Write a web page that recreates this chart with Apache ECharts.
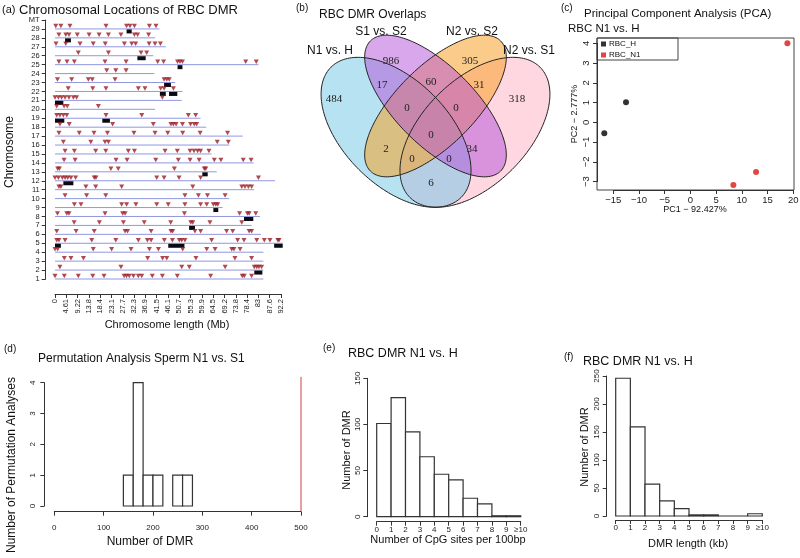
<!DOCTYPE html>
<html><head><meta charset="utf-8">
<script src="https://cdn.jsdelivr.net/npm/echarts@6/dist/echarts.min.js"></script>
<style>html,body{margin:0;padding:0;background:#fff}#c{width:800px;height:558px}</style>
</head><body><div id="c"></div>
<script>
// ---------- DATA ----------
const chromCategories = ['1','2','3','4','5','6','7','8','9','10','11','12','13','14','15','16','17','18','19','20','21','22','23','24','25','26','27','28','29','MT'];
const chromLengths = [85,85,85,85,92.9,84,80.2,83.6,68.4,71.1,81.3,89.8,66,81,63.9,71.1,76.6,61.7,59.4,40.8,51.7,52,49,40.5,83,40.1,45.2,40.8,42.6];
const xTickLabels = ['0','4.61','9.22','13.8','18.4','23.1','27.7','32.3','36.9','41.5','46.1','50.7','55.3','59.9','64.5','69.2','73.8','78.4','83','87.6','92.2'];
const dmrPositionsByChrom = [
 [0,3.8,9.5,15.4,20.0,28.2,29.2,30.3,32.0,34.0,35.4,39.7,43.8,49.9,63.5,76.4,77.2,80.2],
 [2.0,26.9,51.7,54.8,69.4,81.3,82.3,83.2,84.3],
 [3.8,6.5,11.6,37.8,43.9,45.6,57.5,73.4,80.2],
 [0,1.1,15.6,23.1,31.0,38.5,42.2,52.1,61.9,65.3,72.1,73.0,75.5],
 [0.7,1.6,4.1,15.0,24.8,34.0,37.7,39.2,44.6,47.9,50.7,51.7,53.0,63.9,74.5,77.1,82.3,85.4,87.7,90.9,91.4],
 [0.7,8.6,16.0,28.6,29.6,39.2,47.3,48.0,57.1,59.4,70.0,72.5,79.2,80.2],
 [7.8,18.1,27.9,36.4,47.2,55.4,56.2,63.2,76.2],
 [1.0,4.8,5.7,20.4,27.6,28.6,52.8,75.3,78.5,79.2,81.9],
 [7.9,10.6,27.2,29.2,33.0,41.5,46.2,53.0,59.4,61.9,64.6,65.6,66.4],
 [4.1,12.9,20.7,53.0,58.5,62.2,69.4],
 [1.6,2.4,12.6,16.6,27.2,56.2,76.2,77.5,78.9,80.2],
 [0,1.4,3.0,4.1,5.2,6.5,8.4,16.0,16.7,41.5,44.5,50.6,59.4,83.0],
 [1.1,1.8,22.8,25.8,48.7,60.9,61.5],
 [3.7,8.2,24.9,29.4,41.1,50.3,55.1,58.8,65.0,67.7,76.8,80.0],
 [4.1,7.9,16.6,20.7,29.9,32.4,44.9,49.9,55.1,56.7,58.2,59.4,62.8],
 [3.4,14.6,20.4,21.8,66.2,70.7],
 [1.6,9.9,15.9,21.4,32.2,40.8,46.0,52.1,59.2,70.4],
 [2.0,5.8,23.5,40.1,47.3,48.3,49.4,52.0,55.3,56.8,57.8],
 [0.7,2.0,3.4,4.8,20.8,35.4,54.4,57.4],
 [0.7,3.7,5.0,17.7],
 [0,1.4,2.7,4.1,5.7,7.5,8.8,43.8],
 [5.4,15.4,20.8,34.0,36.7,43.1,44.5,48.3],
 [1.0,6.8,13.6,15.2,24.5,44.5,45.6,46.6],
 [21.1,24.8,29.0],
 [1.6,4.9,7.9,20.4,29.0,41.9,44.3,50.0,51.0,52.0,77.8,82.1],
 [9.5,21.8,35.1,37.4],
 [0.4,4.4,10.2,15.6,20.5,28.3,31.3,32.9,38.4,40.8,43.0],
 [1.6,4.4,5.7,9.1,13.9,18.0,21.8,26.9,32.4,33.7,38.2],
 [0.3,2.4,6.1,20.8,29.2,30.6,32.4,38.5,41.2]
];
const clusterChrom = ['29','28','26','25','23','22','22','21','19','19','13','12','9','8','7','5','5','5','2'];
const clusterStart = [29.2,4.1,33.6,50.0,44.5,42.8,46.5,0,0,19.3,60.1,3.4,64.6,77.1,54.7,0,46.2,89.4,81.3];
const clusterEnd   = [31.3,6.5,37.0,52.0,47.3,45.2,49.9,3.4,3.8,22.4,62.3,7.5,66.6,80.9,57.1,2.4,52.8,92.9,84.6];

const vennSetNames = ['N1 vs. H','S1 vs. S2','N2 vs. S2','N2 vs. S1'];
const vennRegionCounts = [484,986,305,318,17,60,31,0,0,0,2,0,34,0,6];

const pcaH_x = [-16.75,-12.53], pcaH_y = [-0.55,1.02];
const pcaN1_x = [18.85,12.76,8.35], pcaN1_y = [4.0,-2.51,-3.17];

const permBinStart = [140,160,180,200,240,260];
const permBinEnd   = [160,180,200,220,260,280];
const permCounts   = [1,4,1,1,1,1];
const observedDMR = 500;

const cpgTickLabels = ['0','1','2','3','4','5','6','7','8','9','≥10'];
const cpgCounts = [101,129,92,65,46,40,20,14,1,1];
const lenTickLabels = ['0','1','2','3','4','5','6','7','8','9','≥10'];
const lenCounts = [246,159,57,27,13,2,2,0,0,4];

// ---------- BUILD ----------
const SANS = 'Liberation Sans, Arial, sans-serif';
const SERIF = 'Liberation Serif, Times New Roman, serif';
const AX = '#333';
const minus = v => (v < 0 ? '\u2212' + (-v) : String(v));

function axisCommon(extra){
  return Object.assign({
    axisLine:{show:true,onZero:false,lineStyle:{color:AX,width:1}},
    axisTick:{show:true,length:4,lineStyle:{color:AX}},
    splitLine:{show:false},
    axisLabel:{color:'#222',fontFamily:SANS,fontSize:8}
  }, extra);
}

const triData = [];
dmrPositionsByChrom.forEach((arr,i)=>arr.forEach(p=>triData.push([p,i])));
const clusterData = clusterChrom.map((c,i)=>[clusterStart[i],clusterEnd[i],chromCategories.indexOf(c)]);

function histRender(params, api){
  const p0 = api.coord([api.value(0), api.value(2)]);
  const p1 = api.coord([api.value(1), 0]);
  return {type:'rect', shape:{x:p0[0],y:p0[1],width:p1[0]-p0[0],height:p1[1]-p0[1]},
    style:{fill:'#fff',stroke:'#333',lineWidth:1.2}};
}

// Venn geometry (layout): quad ellipses, inner pair thinner than outer pair
const U = 263, vcx = 435.5, vcy = 106;
const vennEll = [
  {cx:vcx-0.15*U, cy:vcy+0.10*U, a:0.35*U, b:0.20*U, rot:-Math.PI/4, fill:'rgba(110,198,230,0.5)'},
  {cx:vcx, cy:vcy, a:0.35*U, b:0.15*U, rot:-Math.PI/4, fill:'rgba(180,80,215,0.5)'},
  {cx:vcx, cy:vcy, a:0.35*U, b:0.15*U, rot:Math.PI/4, fill:'rgba(248,162,40,0.55)'},
  {cx:vcx+0.15*U, cy:vcy+0.10*U, a:0.35*U, b:0.20*U, rot:Math.PI/4, fill:'rgba(255,175,195,0.5)'}
];
const vennDrawOrder = [3,0,2,1];
function ellPts(e){
  const pts=[];
  for(let k=0;k<180;k++){
    const t=k/180*2*Math.PI, x=e.a*Math.cos(t), y=e.b*Math.sin(t);
    const c=Math.cos(e.rot), s=Math.sin(e.rot);
    pts.push([e.cx + x*c + y*s, e.cy - x*s + y*c]);
  }
  return pts;
}
const vennLabelPos = [[330,51],[381,32],[472,32],[529,51]];
const vennCountPos = [[334,99],[391,61],[470,61],[517,99],[382,85],[431,82],[479,85],[407,108],[456,108],[431,135],[386,149],[412,159],[472,149],[449,159],[431,183]];

const graphics = [];
vennDrawOrder.forEach(i=>graphics.push({type:'polygon',shape:{points:ellPts(vennEll[i])},style:{fill:vennEll[i].fill,stroke:null}}));
vennEll.forEach(e=>graphics.push({type:'polygon',shape:{points:ellPts(e)},style:{fill:null,stroke:'#222',lineWidth:1}}));
vennSetNames.forEach((n,i)=>graphics.push({type:'text',x:vennLabelPos[i][0],y:vennLabelPos[i][1],style:{text:n,fontFamily:SANS,fontSize:12,fill:'#111',align:'center',verticalAlign:'middle'}}));
vennRegionCounts.forEach((n,i)=>graphics.push({type:'text',x:vennCountPos[i][0],y:vennCountPos[i][1],style:{text:String(n),fontFamily:SERIF,fontSize:11,fill:'#222',align:'center',verticalAlign:'middle'}}));

function txt(x,y,t,size,opts){
  return Object.assign({type:'text',x:x,y:y,style:Object.assign({text:t,fontFamily:SANS,fontSize:size,fill:'#111',align:'left',verticalAlign:'middle'},opts||{})});
}
function vtxt(x,y,t,size){
  return {type:'text',x:x,y:y,rotation:Math.PI/2,style:{text:t,fontFamily:SANS,fontSize:size,fill:'#111',align:'center',verticalAlign:'middle'}};
}
// titles
graphics.push(txt(2,10,'(a)',11), txt(19,10,'Chromosomal Locations of RBC DMR',13));
graphics.push(txt(296,8,'(b)',10), txt(319,15,'RBC DMR Overlaps',12));
graphics.push(txt(561,8,'(c)',10), txt(584,14,'Principal Component Analysis (PCA)',11.5), txt(568,29,'RBC N1 vs. H',11.5));
graphics.push(txt(4,349,'(d)',10), txt(38,359,'Permutation Analysis Sperm N1 vs. S1',12));
graphics.push(txt(323,348,'(e)',10), txt(348,354,'RBC DMR N1 vs. H',12.5));
graphics.push(txt(564,357,'(f)',10), txt(583,362,'RBC DMR N1 vs. H',12.5));
// axis titles
graphics.push(vtxt(10,152,'Chromosome',12), txt(167,325,'Chromosome length (Mb)',11,{align:'center'}));
graphics.push(vtxt(575,114,'PC2 \u2212 2.777%',9), txt(695,210,'PC1 \u2212 92.427%',9,{align:'center'}));
graphics.push(vtxt(12,465,'Number of Permutation Analyses',12), txt(150,542,'Number of DMR',12,{align:'center'}));
graphics.push(vtxt(347,450,'Number of DMR',11), txt(448,540,'Number of CpG sites per 100bp',11,{align:'center'}));
graphics.push(vtxt(585,447,'Number of DMR',11), txt(688,544,'DMR length (kb)',11,{align:'center'}));
// PCA box + legend box
graphics.push({type:'rect',shape:{x:597,y:38,width:197,height:152},style:{fill:null,stroke:'#444',lineWidth:1}});
graphics.push({type:'rect',shape:{x:597,y:38,width:81,height:22},style:{fill:null,stroke:'#444',lineWidth:1}});

const option = {
  animation:false,
  backgroundColor:'#fff',
  grid:[
    {left:55,top:20,width:226,height:259,outerBoundsMode:'none'},
    {left:613.3,top:43.3,width:180,height:138.4,outerBoundsMode:'none'},
    {left:54.3,top:382.7,width:246.7,height:123.3,outerBoundsMode:'none'},
    {left:376.7,top:378.3,width:144,height:138.4,outerBoundsMode:'none'},
    {left:615.7,top:376,width:146.6,height:140,outerBoundsMode:'none'}
  ],
  xAxis:[
    axisCommon({gridIndex:0,type:'value',min:0,max:92.2,interval:4.61,offset:15,
      axisLabel:{color:'#222',fontFamily:SANS,fontSize:7.5,rotate:90,margin:5,showMinLabel:true,showMaxLabel:true,
        formatter:v=>xTickLabels[Math.round(v/4.61)]}}),
    axisCommon({gridIndex:1,type:'value',min:-15,max:20,interval:5,offset:8.3,
      axisLabel:{color:'#222',fontFamily:SANS,fontSize:9.5,margin:5,formatter:minus}}),
    axisCommon({gridIndex:2,type:'value',min:0,max:500,interval:100,offset:5.7,
      axisLabel:{color:'#222',fontFamily:SANS,fontSize:8,margin:12}}),
    axisCommon({gridIndex:3,type:'value',min:0,max:10,interval:1,offset:5,
      axisLabel:{color:'#222',fontFamily:SANS,fontSize:8,margin:4,formatter:v=>cpgTickLabels[Math.round(v)]}}),
    axisCommon({gridIndex:4,type:'value',min:0,max:10,interval:1,offset:4,
      axisLabel:{color:'#222',fontFamily:SANS,fontSize:8,margin:4,formatter:v=>lenTickLabels[Math.round(v)]}})
  ],
  yAxis:[
    axisCommon({gridIndex:0,type:'category',data:chromCategories,boundaryGap:false,offset:9.3,
      axisTick:{show:true,length:4,interval:0,lineStyle:{color:AX}},
      axisLabel:{color:'#222',fontFamily:SANS,fontSize:7.5,interval:0,margin:6}}),
    axisCommon({gridIndex:1,type:'value',min:-3,max:4,interval:1,offset:16.3,
      axisLabel:{color:'#222',fontFamily:SANS,fontSize:9.5,rotate:90,margin:6,formatter:minus}}),
    axisCommon({gridIndex:2,type:'value',min:0,max:4,interval:1,offset:10,
      axisLabel:{color:'#222',fontFamily:SANS,fontSize:8,rotate:90,margin:8}}),
    axisCommon({gridIndex:3,type:'value',min:0,max:150,interval:50,offset:9.4,
      axisLabel:{color:'#222',fontFamily:SANS,fontSize:8,rotate:90,margin:6}}),
    axisCommon({gridIndex:4,type:'value',min:0,max:250,interval:50,offset:9,
      axisLabel:{color:'#222',fontFamily:SANS,fontSize:8,rotate:90,margin:6}})
  ],
  legend:{left:601,top:40,orient:'vertical',icon:'rect',itemWidth:5,itemHeight:5,itemGap:3,padding:0,
    selectedMode:false,data:['RBC_H','RBC_N1'],textStyle:{fontFamily:SANS,fontSize:8,color:'#111',padding:[0,0,0,-2]}},
  series:[
    {type:'custom',name:'chrom',xAxisIndex:0,yAxisIndex:0,clip:false,silent:true,
      data:chromLengths.map((l,i)=>[l,i]),encode:{x:0,y:1},
      renderItem:(p,api)=>{const a=api.coord([0,api.value(1)]),b=api.coord([api.value(0),api.value(1)]);
        return {type:'line',shape:{x1:a[0],y1:a[1],x2:b[0],y2:b[1]},style:{stroke:'#9098e0',lineWidth:1}};}},
    {type:'custom',name:'cluster',xAxisIndex:0,yAxisIndex:0,clip:false,silent:true,
      data:clusterData,encode:{x:[0,1],y:2},
      renderItem:(p,api)=>{const a=api.coord([api.value(0),api.value(2)]),b=api.coord([api.value(1),api.value(2)]);
        return {type:'rect',shape:{x:a[0],y:a[1]+0.5,width:Math.max(b[0]-a[0],3),height:4},style:{fill:'#0a0a14'}};}},
    {type:'scatter',name:'dmr',xAxisIndex:0,yAxisIndex:0,clip:false,silent:true,
      data:triData,symbol:'path://M0,0 L10,0 L5,8 Z',symbolSize:[5,4.5],symbolOffset:[0,-3],
      itemStyle:{color:'#9a1c22'}},
    {type:'scatter',name:'RBC_H',xAxisIndex:1,yAxisIndex:1,clip:false,
      data:pcaH_x.map((x,i)=>[x,pcaH_y[i]]),symbolSize:6,itemStyle:{color:'#000'}},
    {type:'scatter',name:'RBC_N1',xAxisIndex:1,yAxisIndex:1,clip:false,
      data:pcaN1_x.map((x,i)=>[x,pcaN1_y[i]]),symbolSize:6,itemStyle:{color:'#e01515'}},
    {type:'custom',name:'perm',xAxisIndex:2,yAxisIndex:2,clip:false,silent:true,
      data:permCounts.map((c,i)=>[permBinStart[i],permBinEnd[i],c]),encode:{x:[0,1],y:2},renderItem:histRender},
    {type:'custom',name:'observed',xAxisIndex:2,yAxisIndex:2,clip:false,silent:true,
      data:[[observedDMR]],encode:{x:0},
      renderItem:(p,api)=>{const a=api.coord([api.value(0),-0.17]),b=api.coord([api.value(0),4.19]);
        return {type:'line',shape:{x1:a[0],y1:a[1],x2:b[0],y2:b[1]},style:{stroke:'#d04040',lineWidth:1}};}},
    {type:'custom',name:'cpg',xAxisIndex:3,yAxisIndex:3,clip:false,silent:true,
      data:cpgCounts.map((c,i)=>[i,i+1,c]),encode:{x:[0,1],y:2},renderItem:histRender},
    {type:'custom',name:'len',xAxisIndex:4,yAxisIndex:4,clip:false,silent:true,
      data:lenCounts.map((c,i)=>[i,i+1,c]),encode:{x:[0,1],y:2},renderItem:histRender}
  ],
  graphic:{elements:graphics}
};
const chart = echarts.init(document.getElementById('c'));
chart.setOption(option);
</script></body></html>
